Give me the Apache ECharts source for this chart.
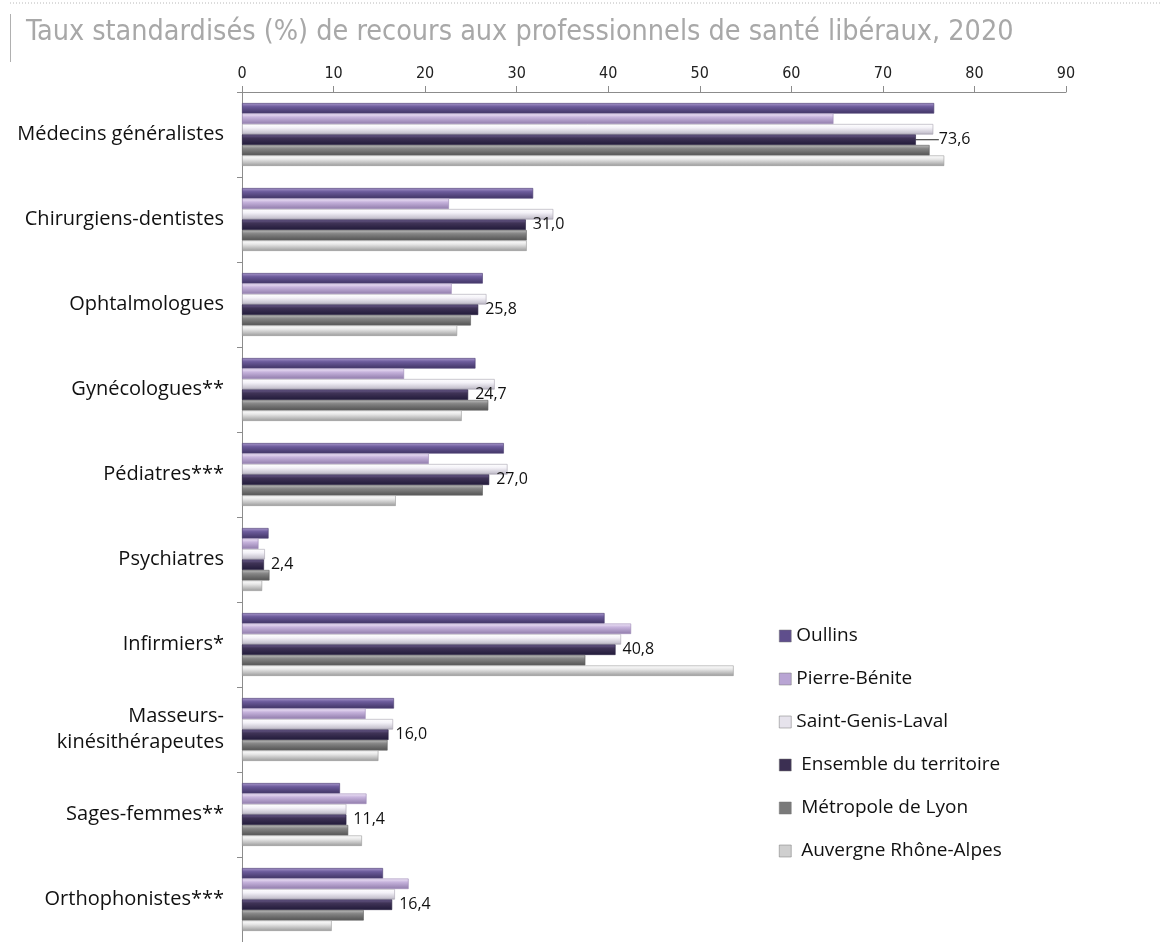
<!DOCTYPE html>
<html>
<head>
<meta charset="utf-8">
<script src="https://cdn.jsdelivr.net/npm/echarts@6/dist/echarts.min.js"></script>
<style>
html,body{margin:0;padding:0;background:#fff;}
#chart{width:1160px;height:942px;}
</style>
</head>
<body>
<div id="chart"></div>
<script>
var categories = ["Médecins généralistes","Chirurgiens-dentistes","Ophtalmologues","Gynécologues**","Pédiatres***","Psychiatres","Infirmiers*","Masseurs-\nkinésithérapeutes","Sages-femmes**","Orthophonistes***"];
var seriesNames = ["Oullins","Pierre-Bénite","Saint-Genis-Laval","Ensemble du territoire","Métropole de Lyon","Auvergne Rhône-Alpes"];
var oullins    = [75.6, 31.8, 26.3, 25.5, 28.6, 2.9, 39.6, 16.6, 10.7, 15.4];
var pierreBenite = [64.6, 22.6, 22.9, 17.7, 20.4, 1.8, 42.5, 13.5, 13.6, 18.2];
var saintGenis = [75.5, 34.0, 26.7, 27.6, 29.0, 2.5, 41.4, 16.5, 11.4, 16.7];
var ensemble   = [73.6, 31.0, 25.8, 24.7, 27.0, 2.4, 40.8, 16.0, 11.4, 16.4];
var metropole  = [75.1, 31.1, 25.0, 26.9, 26.3, 3.0, 37.5, 15.9, 11.6, 13.3];
var ara        = [76.7, 31.1, 23.5, 24.0, 16.8, 2.2, 53.7, 14.9, 13.1, 9.8];
var xTicks = [0,10,20,30,40,50,60,70,80,90];

var allData = [oullins, pierreBenite, saintGenis, ensemble, metropole, ara];
var grads = [
  ['#a897cc','#6c5b9b','#4a3d70','#4a3d70'],
  ['#f3eafa','#c6b3dc','#9c88b6','#9c88b6'],
  ['#ffffff','#f4f2f8','#c8c4d0','#a9a5b2'],
  ['#6e5f90','#3f3356','#282040','#282040'],
  ['#bdbdbd','#858585','#5e5e5e','#5e5e5e'],
  ['#ffffff','#e8e8e8','#adadad','#9a9a9a']
];
var legendColors = ['#5f4e8c','#b9a5d4','#e6e3ec','#3b2f52','#7a7a7a','#cfcfcf'];
var narrow = "'Liberation Sans Narrow','DejaVu Sans Condensed','Roboto Condensed','Arial Narrow',sans-serif";

function grad(c){
  return new echarts.graphic.LinearGradient(0,0,0,1,[
    {offset:0,color:c[0]},{offset:0.35,color:c[1]},{offset:0.85,color:c[2]},{offset:1,color:c[3]}
  ]);
}

var series = seriesNames.map(function(name,i){
  var s = {
    name: name,
    type: 'bar',
    data: allData[i],
    barGap: '0%',
    barCategoryGap: '26%',
    itemStyle: { color: grad(grads[i]), borderColor: grads[i][3], borderWidth: 0.6 },
    emphasis: { disabled: true }
  };
  if (i === 3) {
    s.data = allData[i].map(function(v, k){
      return k === 0 ? { value: v, labelLine: { show: true, lineStyle: { color: '#222', width: 1 } } } : { value: v, labelLine: { show: false } };
    });
    s.label = {
      show: true,
      position: 'right',
      distance: 7,
      fontFamily: 'Open Sans',
      fontSize: 16,
      color: '#111',
      formatter: function(p){ return p.value.toFixed(1).replace('.', ','); }
    };
    s.labelLayout = function(p){ return p.dataIndex === 0 ? { dx: 16 } : {}; };
  }
  return s;
});

var chart = echarts.init(document.getElementById('chart'));
chart.setOption({
  animation: false,
  backgroundColor: '#fff',
  title: {
    text: 'Taux standardisés (%) de recours aux professionnels de santé libéraux, 2020',
    left: 21, top: 13,
    textStyle: { fontFamily: narrow, fontWeight: 'normal', fontSize: 28.5, color: '#a8a8a8' }
  },
  graphic: [
    { type: 'line', shape: { x1: 10, y1: 3, x2: 1160, y2: 3 }, style: { stroke: '#b8b8b8', lineWidth: 1, lineDash: [1,2] } },
    { type: 'line', shape: { x1: 10.5, y1: 14, x2: 10.5, y2: 62 }, style: { stroke: '#b0b0b0', lineWidth: 1 } }
  ],
  legend: {
    orient: 'vertical',
    left: 774, top: 621,
    itemWidth: 12, itemHeight: 12, itemGap: 23,
    icon: 'rect',
    textStyle: { fontFamily: 'Open Sans', fontSize: 19, color: '#111', lineHeight: 20 },
    data: seriesNames.map(function(n,i){ return { name: n, itemStyle: { color: legendColors[i], borderColor: '#777', borderWidth: 0.5 } }; }),
    formatter: function(n){ return seriesNames.indexOf(n) >= 3 ? ' ' + n : n; }
  },
  grid: { left: 242, top: 92, width: 824, height: 856, containLabel: false },
  xAxis: {
    type: 'value', position: 'top', min: 0, max: 90, interval: 10,
    axisLine: { show: true, lineStyle: { color: '#8c8c8c' } },
    axisTick: { show: true, length: 6, lineStyle: { color: '#8c8c8c' } },
    splitLine: { show: false },
    axisLabel: { fontFamily: narrow, fontSize: 16, color: '#222', margin: 10,
      formatter: function(v){ return xTicks.indexOf(v) >= 0 ? String(v) : ''; } }
  },
  yAxis: {
    type: 'category', inverse: true, data: categories,
    axisLine: { show: true, lineStyle: { color: '#8c8c8c' } },
    axisTick: { show: true, length: 5, lineStyle: { color: '#8c8c8c' } },
    axisLabel: { fontFamily: 'Open Sans', fontSize: 20, color: '#111', margin: 18, lineHeight: 26, align: 'right' }
  },
  series: series
});
</script>
</body>
</html>
